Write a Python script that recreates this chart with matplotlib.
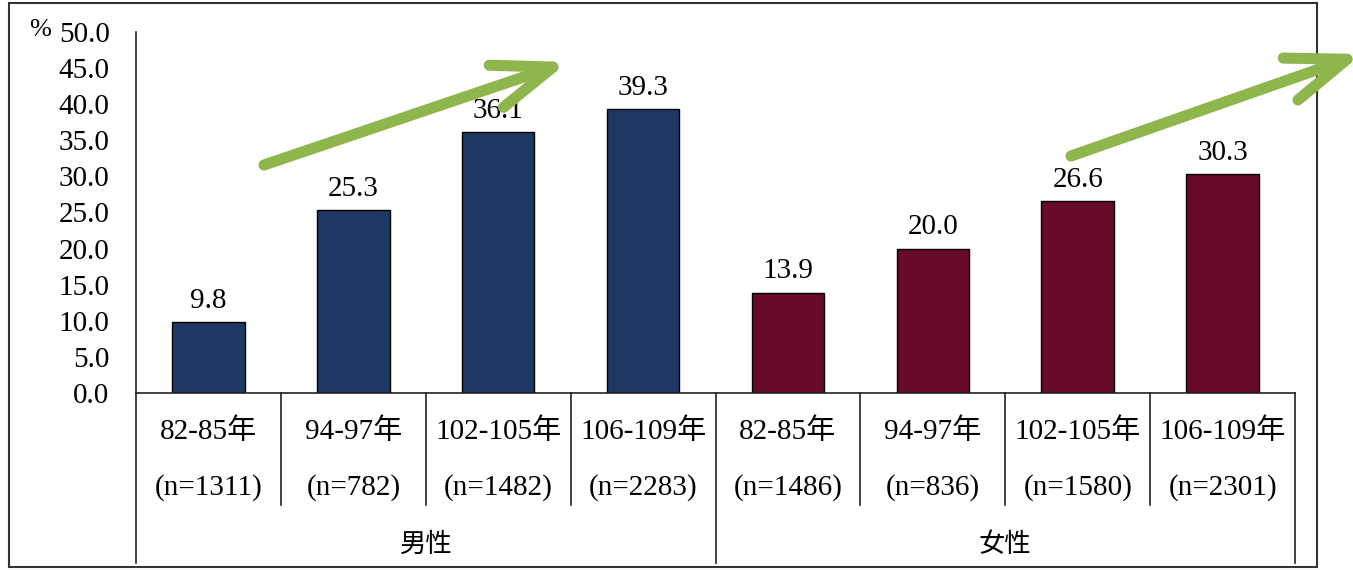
import matplotlib
matplotlib.use("Agg")
import matplotlib.pyplot as plt
from matplotlib.patches import FancyArrowPatch, Rectangle

plt.rcParams['font.family'] = ['Liberation Serif', 'Noto Sans CJK TC', 'DejaVu Sans']

# survey periods and sample sizes, men first then women
periods = ['82-85年', '94-97年', '102-105年', '106-109年',
           '82-85年', '94-97年', '102-105年', '106-109年']
sample_n = [1311, 782, 1482, 2283, 1486, 836, 1580, 2301]
values = [9.8, 25.3, 36.1, 39.3, 13.9, 20.0, 26.6, 30.3]
groups = ['男性', '女性']
group_colors = ['#1f3763', '#670a27']
yticks = [0, 5, 10, 15, 20, 25, 30, 35, 40, 45, 50]

W, H = 1353, 570
fig = plt.figure(figsize=(W / 100, H / 100), dpi=100)
fig.patch.set_facecolor('white')


def fx(px):
    return px / W


def fy(py):
    return 1 - py / H


ax = fig.add_axes([fx(136), fy(393), fx(1295) - fx(136), fy(32) - fy(393)])

n_per_group = len(periods) // len(groups)
xs = list(range(len(periods)))
colors = [group_colors[i // n_per_group] for i in xs]
bars = ax.bar(xs, values, width=0.5, color=colors, edgecolor='black', linewidth=1)
for x, v in zip(xs, values):
    ax.annotate(f'{v:.1f}', (x, v), xytext=(0, 6), textcoords='offset points',
                ha='center', va='bottom', fontsize=21)

ax.set_xlim(-0.5, len(periods) - 0.5)
ax.set_ylim(0, 50)
ax.set_yticks(yticks)
ax.set_yticklabels([f'{t:.1f}' for t in yticks], fontsize=21)
ax.tick_params(axis='y', length=0, pad=19)
ax.set_xticks([])
for s in ['top', 'right']:
    ax.spines[s].set_visible(False)
for s in ['left', 'bottom']:
    ax.spines[s].set_color('#222222')
    ax.spines[s].set_linewidth(1.2)

# table-style category axis under the bars
trans = ax.get_xaxis_transform()
short_y = (393 - 505) / 361
long_y = (393 - 563) / 361
for b in range(len(periods) + 1):
    xb = b - 0.5
    bottom = long_y if b % n_per_group == 0 else short_y
    ax.plot([xb, xb], [0, bottom], transform=trans, color='#222222',
            lw=1.2, clip_on=False)

for x, p, n in zip(xs, periods, sample_n):
    ax.text(x, (393 - 432) / 361, p, transform=trans, ha='center', va='center', fontsize=21)
    ax.text(x, (393 - 488) / 361, f'(n={n})', transform=trans, ha='center', va='center', fontsize=21)

for g, name in enumerate(groups):
    xc = g * n_per_group + (n_per_group - 1) / 2
    ax.text(xc, (393 - 545) / 361, name, transform=trans, ha='center', va='center',
            fontsize=19)

fig.text(fx(40), fy(30), '%', ha='center', va='center', fontsize=19)

# outer frame
fig.add_artist(Rectangle((fx(9), fy(567)), fx(1317) - fx(9), fy(3) - fy(567),
                         transform=fig.transFigure, fill=False,
                         edgecolor='#333333', lw=1.5))

# trend arrows
for tail, tip in [((264, 165), (568, 62)), ((1071, 156), (1362, 54))]:
    arr = FancyArrowPatch((fx(tail[0]), fy(tail[1])), (fx(tip[0]), fy(tip[1])),
                          transform=fig.transFigure,
                          arrowstyle='->, head_length=4.3, head_width=1.6',
                          mutation_scale=10, color='#8fb64c', lw=8,
                          capstyle='round', joinstyle='round',
                          shrinkA=0, shrinkB=0)
    fig.add_artist(arr)

fig.savefig('out.png', dpi=100)
